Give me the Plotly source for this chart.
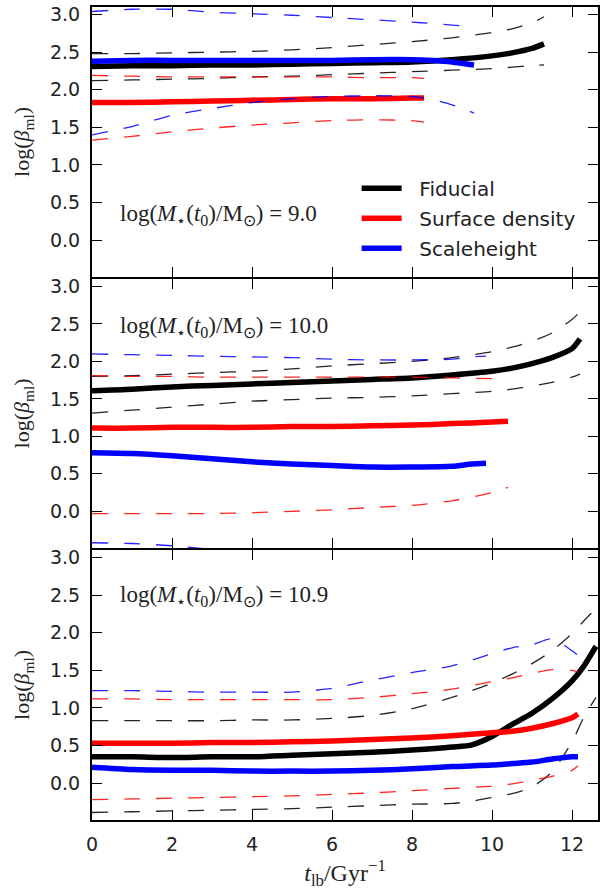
import plotly.graph_objects as go
from plotly.subplots import make_subplots

# ---- log M*(t0) = 9.0 -------------------------------------------------------
p1_fid_t = [0, 1, 2, 3, 4, 5, 6, 7, 8, 9, 10, 10.5, 11, 11.3]
p1_fid_med = [2.31, 2.32, 2.32, 2.33, 2.33, 2.34, 2.35, 2.36, 2.37, 2.40, 2.45, 2.49, 2.55, 2.61]
p1_fid_hi = [2.48, 2.48, 2.49, 2.50, 2.51, 2.53, 2.56, 2.60, 2.64, 2.69, 2.76, 2.81, 2.89, 2.97]
p1_fid_lo = [2.12, 2.13, 2.14, 2.15, 2.17, 2.18, 2.20, 2.22, 2.24, 2.26, 2.28, 2.30, 2.32, 2.33]

p1_sd_t = [0, 1, 2, 3, 4, 5, 6, 7, 8, 8.3]
p1_sd_med = [1.83, 1.83, 1.84, 1.85, 1.86, 1.87, 1.88, 1.88, 1.89, 1.89]
p1_sd_hi = [2.19, 2.18, 2.17, 2.17, 2.17, 2.17, 2.17, 2.16, 2.16, 2.15]
p1_sd_lo = [1.33, 1.38, 1.44, 1.49, 1.53, 1.56, 1.59, 1.60, 1.59, 1.57]

p1_sh_t = [0, 1, 2, 3, 4, 5, 6, 7, 8, 8.5, 9, 9.55]
p1_sh_med = [2.38, 2.39, 2.39, 2.39, 2.39, 2.39, 2.39, 2.40, 2.40, 2.39, 2.37, 2.33]
p1_sh_hi = [3.04, 3.07, 3.07, 3.03, 3.01, 2.99, 2.96, 2.93, 2.90, 2.88, 2.86, 2.84]
p1_sh_lo = [1.40, 1.51, 1.66, 1.75, 1.83, 1.88, 1.91, 1.92, 1.91, 1.87, 1.80, 1.69]

# ---- log M*(t0) = 10.0 ------------------------------------------------------
p2_fid_t = [0, 1, 2, 3, 4, 5, 6, 7, 8, 9, 10, 10.5, 11, 11.5, 12, 12.2]
p2_fid_med = [1.61, 1.63, 1.66, 1.68, 1.70, 1.72, 1.74, 1.76, 1.78, 1.82, 1.87, 1.91, 1.97, 2.05, 2.17, 2.30]
p2_fid_hi = [1.80, 1.81, 1.83, 1.85, 1.87, 1.90, 1.94, 1.97, 2.00, 2.05, 2.13, 2.19, 2.27, 2.38, 2.56, 2.66]
p2_fid_lo = [1.31, 1.35, 1.39, 1.43, 1.47, 1.49, 1.51, 1.52, 1.54, 1.57, 1.60, 1.63, 1.67, 1.72, 1.79, 1.83]

p2_sd_t = [0, 1, 2, 3, 4, 5, 6, 7, 8, 9, 10, 10.4]
p2_sd_med = [1.11, 1.11, 1.12, 1.12, 1.12, 1.13, 1.13, 1.14, 1.15, 1.17, 1.19, 1.20]
p2_sd_hi = [1.81, 1.80, 1.80, 1.79, 1.79, 1.79, 1.79, 1.79, 1.79, 1.78, 1.77, 1.77]
p2_sd_lo = [-0.03, -0.03, -0.03, -0.03, -0.02, 0.00, 0.02, 0.05, 0.08, 0.14, 0.25, 0.32]

p2_sh_t = [0, 1, 2, 3, 4, 5, 6, 7, 8, 9, 9.5, 9.85]
p2_sh_med = [0.78, 0.77, 0.74, 0.70, 0.66, 0.63, 0.61, 0.59, 0.59, 0.60, 0.63, 0.64]
p2_sh_hi = [2.10, 2.09, 2.08, 2.07, 2.06, 2.05, 2.03, 2.02, 2.02, 2.03, 2.06, 2.07]
p2_sh_lo = [-0.42, -0.43, -0.46, -0.51, None, None, None, None, None, None, None, None]

# ---- log M*(t0) = 10.9 ------------------------------------------------------
p3_fid_t = [0, 1, 2, 3, 4, 5, 6, 7, 8, 9, 9.5, 10, 10.5, 11, 11.5, 12, 12.3, 12.6]
p3_fid_med = [0.35, 0.35, 0.34, 0.35, 0.35, 0.37, 0.39, 0.41, 0.44, 0.48, 0.51, 0.62, 0.78, 0.93, 1.12, 1.36, 1.56, 1.82]
p3_fid_hi = [0.83, 0.83, 0.83, 0.83, 0.84, 0.84, 0.86, 0.90, 0.99, 1.14, 1.23, 1.33, 1.45, 1.59, 1.76, 1.99, 2.16, 2.32]
p3_fid_lo = [-0.39, -0.38, -0.37, -0.36, -0.35, -0.34, -0.32, -0.30, -0.28, -0.27, -0.24, -0.19, -0.14, -0.05, 0.15, 0.55, 0.88, 1.14]

p3_sd_t = [0, 1, 2, 3, 4, 5, 6, 7, 8, 9, 10, 10.5, 11, 11.5, 12, 12.15]
p3_sd_med = [0.53, 0.53, 0.53, 0.54, 0.54, 0.55, 0.56, 0.58, 0.60, 0.63, 0.67, 0.69, 0.73, 0.79, 0.87, 0.92]
p3_sd_hi = [1.12, 1.12, 1.11, 1.11, 1.11, 1.11, 1.11, 1.14, 1.19, 1.25, 1.35, 1.40, 1.46, 1.51, 1.50, 1.48]
p3_sd_lo = [-0.22, -0.21, -0.20, -0.19, -0.18, -0.17, -0.15, -0.13, -0.10, -0.07, -0.04, -0.01, 0.04, 0.09, 0.17, 0.23]

p3_sh_t = [0, 1, 2, 3, 4, 5, 6, 7, 8, 9, 10, 10.5, 11, 11.5, 12, 12.15]
p3_sh_med = [0.21, 0.18, 0.17, 0.17, 0.16, 0.16, 0.16, 0.17, 0.19, 0.22, 0.24, 0.26, 0.28, 0.32, 0.35, 0.35]
p3_sh_hi = [1.23, 1.23, 1.22, 1.21, 1.21, 1.21, 1.26, 1.37, 1.47, 1.56, 1.72, 1.80, 1.84, 1.92, 1.76, 1.70]

model_names = ["Fiducial", "Surface density", "Scaleheight"]
model_colors = ["#000000", "#ff0000", "#0000ff"]
mass_labels = ["9.0", "10.0", "10.9"]
x_ticks = [0, 2, 4, 6, 8, 10, 12]

panels = [
    [(p1_fid_t, p1_fid_med, p1_fid_hi, p1_fid_lo),
     (p1_sd_t, p1_sd_med, p1_sd_hi, p1_sd_lo),
     (p1_sh_t, p1_sh_med, p1_sh_hi, p1_sh_lo)],
    [(p2_fid_t, p2_fid_med, p2_fid_hi, p2_fid_lo),
     (p2_sd_t, p2_sd_med, p2_sd_hi, p2_sd_lo),
     (p2_sh_t, p2_sh_med, p2_sh_hi, p2_sh_lo)],
    [(p3_fid_t, p3_fid_med, p3_fid_hi, p3_fid_lo),
     (p3_sd_t, p3_sd_med, p3_sd_hi, p3_sd_lo),
     (p3_sh_t, p3_sh_med, p3_sh_hi, None)],
]

SANS = "DejaVu Sans"
SERIF = "Liberation Serif"
TXT = "#222222"

fig = make_subplots(rows=3, cols=1, shared_xaxes=True, vertical_spacing=0)

for row, models in enumerate(panels, start=1):
    for k, (t, med, hi, lo) in enumerate(models):
        color = model_colors[k]
        fig.add_trace(go.Scatter(
            x=t, y=med, mode="lines",
            line=dict(color=color, width=5.5, shape="spline", smoothing=0.7),
            name="\u00a0\u00a0" + model_names[k], legendgroup=model_names[k],
            showlegend=(row == 1),
        ), row=row, col=1)
        for band in (hi, lo):
            if band is None:
                continue
            fig.add_trace(go.Scatter(
                x=t, y=band, mode="lines",
                line=dict(color=color, width=1.3, dash="16px,16px",
                          shape="spline", smoothing=0.7),
                opacity=0.85, showlegend=False, hoverinfo="skip",
            ), row=row, col=1)

axis_common = dict(
    showline=True, linewidth=2, linecolor="black", mirror="ticks",
    ticks="inside", ticklen=10, tickwidth=1.3, tickcolor="black",
    showgrid=False, zeroline=False,
    tickfont=dict(family=SANS, size=19, color=TXT),
)

fig.update_xaxes(range=[0, 12.65], tickvals=x_ticks, ticklabelstandoff=6, **axis_common)
fig.update_yaxes(range=[-0.49, 3.1], tick0=0, dtick=0.5, tickformat=".1f",
                 ticklabelstandoff=6,
                 title=dict(text="log(<i>β</i><sub>ml</sub>)",
                            font=dict(family=SERIF, size=22, color=TXT),
                            standoff=14),
                 **axis_common)

fig.update_xaxes(
    title=dict(text="<i>t</i><sub>lb</sub>/Gyr<sup>−1</sup>",
               font=dict(family=SERIF, size=24, color=TXT), standoff=10),
    row=3, col=1)

# frame lines sit just outside each panel, so leave a gap of one line
# width between panels to make neighbouring frame lines coincide
top_m, bot_m = 7, 70
plot_h = 890 - top_m - bot_m
half_gap = 1.0 / plot_h
fig.update_layout(
    yaxis=dict(domain=[2 / 3 + half_gap, 1.0]),
    yaxis2=dict(domain=[1 / 3 + half_gap, 2 / 3 - half_gap]),
    yaxis3=dict(domain=[0.0, 1 / 3 - half_gap]),
)

mass_pos = [(0.051, 0.23), (0.051, 0.82), (0.051, 0.83)]
for i, lab in enumerate(mass_labels):
    ax = "" if i == 0 else str(i + 1)
    fig.add_annotation(
        text="log(<i>M</i><sub>⋆</sub>(<i>t</i><sub>0</sub>)/M<sub>⊙</sub>) = " + lab,
        xref="x" + ax + " domain", yref="y" + ax + " domain",
        x=mass_pos[i][0], y=mass_pos[i][1], xanchor="left", yanchor="middle",
        showarrow=False, font=dict(family=SERIF, size=23, color=TXT),
    )

fig.update_layout(
    width=602, height=890,
    margin=dict(l=92, r=2, t=top_m, b=bot_m),
    paper_bgcolor="white", plot_bgcolor="white",
    legend=dict(x=0.523, y=0.801, xanchor="left", yanchor="top",
                bgcolor="rgba(0,0,0,0)", tracegroupgap=1, itemwidth=40,
                font=dict(family=SANS, size=20, color=TXT)),
)

fig.write_html("out.html")
